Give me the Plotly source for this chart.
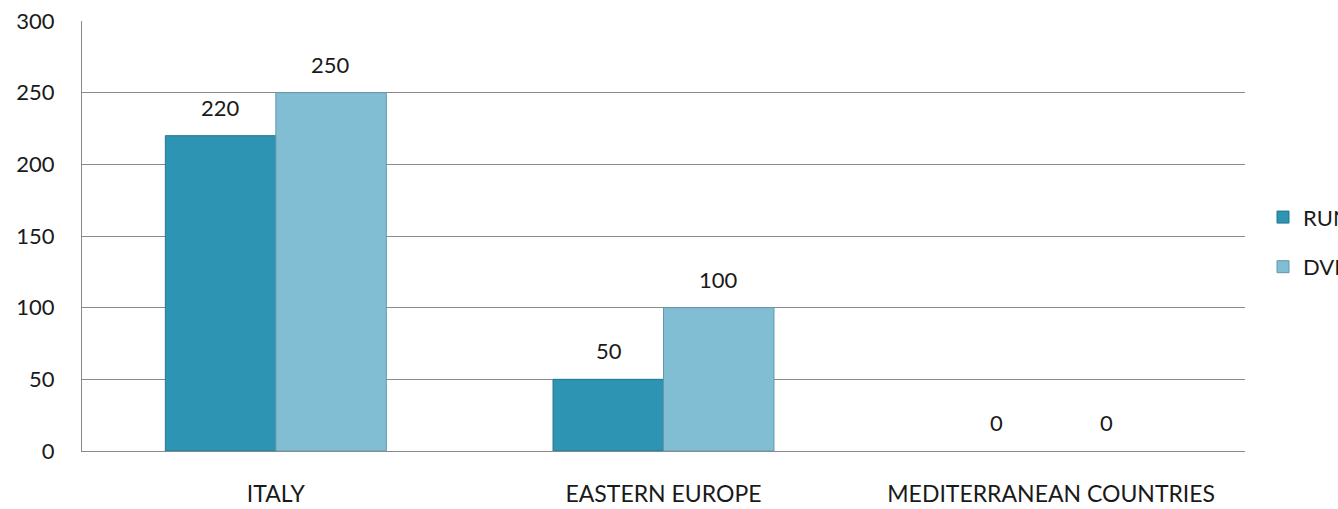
import plotly.graph_objects as go

categories = ["ITALY", "EASTERN EUROPE", "MEDITERRANEAN COUNTRIES"]
run_values = [220, 50, 0]
dvd_values = [250, 100, 0]
series_names = ["RUN", "DVD"]
y_ticks = [0, 50, 100, 150, 200, 250, 300]

font_family = "Lato, Open Sans, sans-serif"
text_color = "#1a1a1a"
grid_color = "#8a8a8a"

fig = go.Figure()
fig.add_trace(go.Bar(
    x=categories, y=run_values, name=series_names[0], legendgroup="a",
    marker=dict(color="#2d94b4",
                line=dict(color="#247690", width=[1 if v > 0 else 0 for v in run_values])),
))
fig.add_trace(go.Bar(
    x=categories, y=dvd_values, name=series_names[1], legendgroup="b",
    marker=dict(color="#82bed3",
                line=dict(color="#6497a9", width=[1 if v > 0 else 0 for v in dvd_values])),
))

annotations = []
for vals, shift in ((run_values, -55), (dvd_values, 55)):
    for c, v in zip(categories, vals):
        annotations.append(dict(
            x=c, y=v, xref="x", yref="y", text=str(v), showarrow=False,
            xshift=shift, yshift=13, yanchor="bottom",
            font=dict(size=22, color=text_color, family=font_family),
        ))

fig.update_layout(
    width=1338, height=509,
    margin=dict(l=82, r=93, t=21, b=58),
    paper_bgcolor="white", plot_bgcolor="white",
    barmode="group", bargap=0.43, bargroupgap=0,
    font=dict(family=font_family, size=22, color=text_color),
    annotations=annotations,
    showlegend=True,
    legend=dict(
        x=1263 / 1338, xanchor="left", xref="container", y=0.524, yanchor="middle",
        yref="container",
        font=dict(size=22, color=text_color), tracegroupgap=18,
        traceorder="grouped",
    ),
    xaxis=dict(
        showgrid=False, ticks="", showline=True, linecolor=grid_color, linewidth=1,
        tickfont=dict(size=23), ticklabelstandoff=22, automargin=False,
    ),
    yaxis=dict(
        range=[0, 300], tickvals=y_ticks, showgrid=True, gridcolor=grid_color,
        gridwidth=1, zeroline=False, showline=True, linecolor=grid_color,
        ticks="", tickfont=dict(size=22), ticklabelstandoff=22, automargin=False,
    ),
)

fig.write_html("out.html", config={"displayModeBar": False},
               post_script="document.body.style.margin='0';")
